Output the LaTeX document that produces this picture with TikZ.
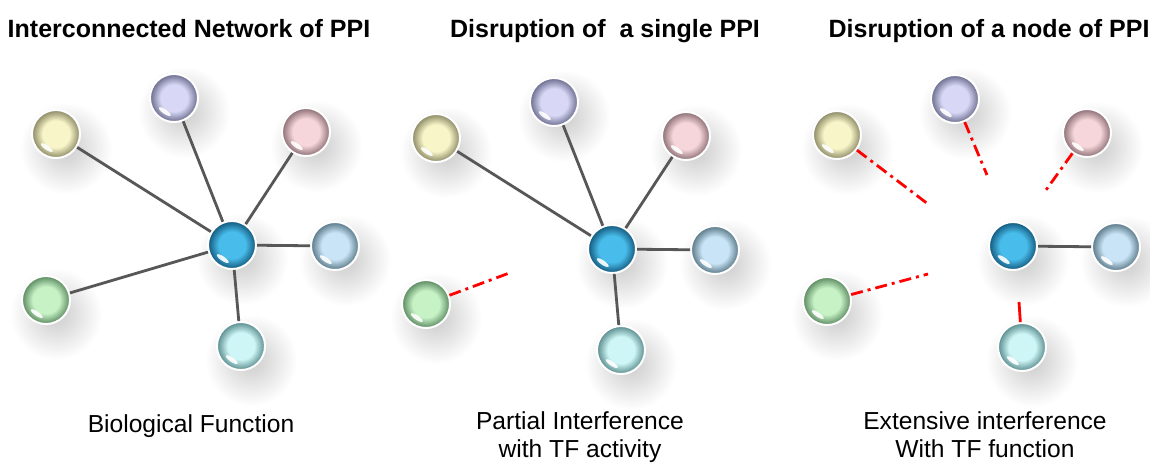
\documentclass[tikz,border=0pt]{standalone}
\usepackage{fontspec}
\setmainfont{Liberation Sans}

\definecolor{yelIn}{HTML}{F8F5C8}  \definecolor{yelOut}{HTML}{8A8864}
\definecolor{vioIn}{HTML}{D8D8F6}  \definecolor{vioOut}{HTML}{6A6A8C}
\definecolor{rosIn}{HTML}{F6D6DA}  \definecolor{rosOut}{HTML}{8A6E74}
\definecolor{hubIn}{HTML}{48BCEA}  \definecolor{hubOut}{HTML}{12567A}
\definecolor{bluIn}{HTML}{C8E4F6}  \definecolor{bluOut}{HTML}{587686}
\definecolor{grnIn}{HTML}{C6F2C6}  \definecolor{grnOut}{HTML}{5A885E}
\definecolor{cyaIn}{HTML}{CEF6F6}  \definecolor{cyaOut}{HTML}{588A8C}

% glassy sphere shading
\newcommand{\ballshade}[3]{%
  \pgfdeclareradialshading{#1}{\pgfpoint{0bp}{0bp}}%
    {color(0bp)=(#2); color(14bp)=(#2); color(25bp)=(#3); color(50bp)=(#3)}}
\ballshade{shYel}{yelIn}{yelOut}
\ballshade{shVio}{vioIn}{vioOut}
\ballshade{shRos}{rosIn}{rosOut}
\ballshade{shHub}{hubIn}{hubOut}
\ballshade{shBlu}{bluIn}{bluOut}
\ballshade{shGrn}{grnIn}{grnOut}
\ballshade{shCya}{cyaIn}{cyaOut}
% soft shadow under a sphere
\pgfdeclareradialshading{shSoft}{\pgfpoint{0bp}{0bp}}%
  {color(0bp)=(black!20); color(9bp)=(black!13); color(24bp)=(white); color(50bp)=(white)}

\begin{document}
\begin{tikzpicture}[
    x=0.5pt, y=-0.5pt,
    protein/.style={circle, minimum size=24pt, inner sep=0pt,
        draw=white, line width=1pt, shading=#1,
        path picture={
            \pgfsetfillcolor{white}\pgfsetfillopacity{0.9}
            \pgfpathellipse{\pgfpointadd
                {\pgfpointanchor{path picture bounding box}{center}}
                {\pgfpoint{-4.6pt}{-6.8pt}}}
                {\pgfpoint{2.9pt}{-2.0pt}}{\pgfpoint{0.62pt}{0.9pt}}
            \pgfusepath{fill}}},
    halo/.style={shading=shSoft},
    link/.style={draw=black!66, line width=1.4pt},
    cut/.style={draw=red, line width=1.4pt,
        dash pattern=on 6pt off 2.5pt on 1.5pt off 2.5pt},
    title/.style={anchor=base, inner sep=0pt,
        font=\bfseries\fontsize{12.5}{15}\selectfont},
    caption/.style={anchor=base, inner sep=0pt, align=center,
        font=\fontsize{12.3}{14}\selectfont},
]
    \fill[white] (0,0) rectangle (1150,462);
    \useasboundingbox (0,0) rectangle (1150,462);

    % shadows first
    \foreach \dx/\dy in {0/0, 380/4, 781/1}
        \foreach \bx/\by in {56/134, 174/98, 306/132, 232/245, 335/246, 46/300, 241/346}
            \fill [halo] (\bx+\dx-38, \by+\dy-34) rectangle +(96,96);

    % the three networks
    \foreach \p/\dx/\dy in {1/0/0, 2/380/4, 3/781/1} {
        \begin{scope}[shift={(\dx,\dy)}]
            \node [protein=shYel] (y\p) at (56,134) {};
            \node [protein=shVio] (v\p) at (174,98) {};
            \node [protein=shRos] (r\p) at (306,132) {};
            \node [protein=shHub] (c\p) at (232,245) {};
            \node [protein=shBlu] (b\p) at (335,246) {};
            \node [protein=shGrn] (g\p) at (46,300) {};
            \node [protein=shCya] (t\p) at (241,346) {};
        \end{scope}
    }

    % intact network
    \foreach \n in {y1,v1,r1,b1,g1,t1}
        \draw [link] (c1) -- (\n);

    % one interaction lost
    \foreach \n in {y2,v2,r2,b2,t2}
        \draw [link] (c2) -- (\n);
    \coordinate (g2end) at (512,272);
    \draw [cut] (g2) -- (g2end);

    % hub lost
    \coordinate (y3end) at (928,204);
    \coordinate (v3end) at (987,175);
    \coordinate (r3end) at (1046,190);
    \coordinate (g3end) at (928,274);
    \coordinate (t3end) at (1019,302);
    \draw [link] (c3) -- (b3);
    \draw [cut] (y3) -- (y3end);
    \draw [cut] (v3) -- (v3end);
    \draw [cut] (r3) -- (r3end);
    \draw [cut] (g3) -- (g3end);
    \draw [draw=red, line width=1.4pt] (t3) -- (t3end);

    % headings
    \node [title] (h1) at (189,37) {Interconnected Network of PPI};
    \node [title] (h2) at (605,37) {Disruption of~ a single PPI};
    \node [title] (h3) at (989,37) {Disruption of a node of PPI};

    % outcomes
    \node [caption] (o1) at (191,432) {Biological Function};
    \node [caption] (o2) at (580,457) {Partial Interference\\with TF activity};
    \node [caption] (o3) at (985,457) {Extensive interference\\With TF function};
\end{tikzpicture}
\end{document}
